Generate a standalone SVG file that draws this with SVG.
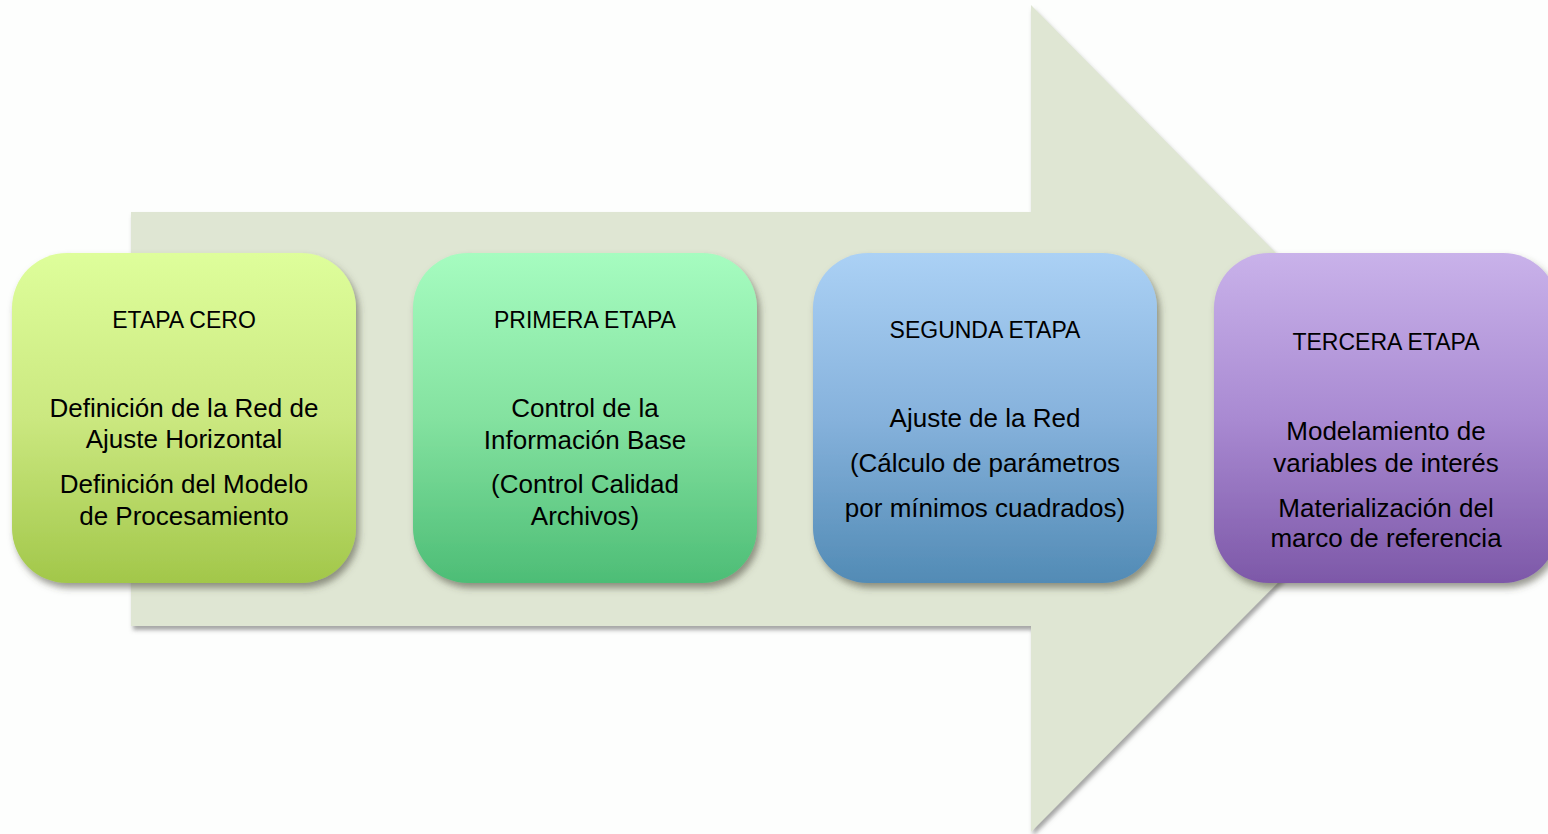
<svg xmlns="http://www.w3.org/2000/svg" width="1548" height="834" viewBox="0 0 1548 834">
<defs>
<filter id="arrowShadow" x="-5%" y="-5%" width="112%" height="112%">
<feDropShadow dx="2" dy="4" stdDeviation="2" flood-color="#6a6a6a" flood-opacity="0.6"/>
</filter>
<filter id="boxShadow" x="-10%" y="-10%" width="125%" height="125%">
<feDropShadow dx="3" dy="5" stdDeviation="3.5" flood-color="#4a4a3a" flood-opacity="0.55"/>
</filter>
<linearGradient id="g1" x1="0" y1="0" x2="0" y2="1">
<stop offset="0" stop-color="#defe9b"/>
<stop offset="0.5" stop-color="#cbe880"/>
<stop offset="1" stop-color="#a2c74a"/>
</linearGradient>
<linearGradient id="g2" x1="0" y1="0" x2="0" y2="1">
<stop offset="0" stop-color="#a6fcc0"/>
<stop offset="0.5" stop-color="#84e2a0"/>
<stop offset="1" stop-color="#4dbd76"/>
</linearGradient>
<linearGradient id="g3" x1="0" y1="0" x2="0" y2="1">
<stop offset="0" stop-color="#abd1f5"/>
<stop offset="0.5" stop-color="#86b2dc"/>
<stop offset="1" stop-color="#528bb5"/>
</linearGradient>
<linearGradient id="g4" x1="0" y1="0" x2="0" y2="1">
<stop offset="0" stop-color="#c9b2ea"/>
<stop offset="0.5" stop-color="#a98ad2"/>
<stop offset="1" stop-color="#7d58a8"/>
</linearGradient>
</defs>
<style>
.t { font-family: "Liberation Sans", Arial, sans-serif; fill: #000; text-anchor: middle; }
.h { font-size: 23px; }
.b { font-size: 26px; }
.box { filter: url(#boxShadow); }
</style>
<rect x="0" y="0" width="1548" height="834" fill="#fdfefd"/>
<g id="arrow">
<path d="M131 212 H1031 V5 L1440 419 L1031 832 V626 H131 Z" fill="#dfe6d3" filter="url(#arrowShadow)"/>
</g>
<g id="connectors"></g>
<g id="etapa-cero">
<rect class="box" x="12" y="253" width="344" height="330" rx="55" ry="55" fill="url(#g1)"/>
<text class="t h" x="184" y="328">ETAPA CERO</text>
<text class="t b" x="184" y="417">Definición de la Red de</text>
<text class="t b" x="184" y="448">Ajuste Horizontal</text>
<text class="t b" x="184" y="493">Definición del Modelo</text>
<text class="t b" x="184" y="525">de Procesamiento</text>
</g>
<g id="primera-etapa">
<rect class="box" x="413" y="253" width="344" height="330" rx="55" ry="55" fill="url(#g2)"/>
<text class="t h" x="585" y="328">PRIMERA ETAPA</text>
<text class="t b" x="585" y="417">Control de la</text>
<text class="t b" x="585" y="449">Información Base</text>
<text class="t b" x="585" y="493">(Control Calidad</text>
<text class="t b" x="585" y="525">Archivos)</text>
</g>
<g id="segunda-etapa">
<rect class="box" x="813" y="253" width="344" height="330" rx="55" ry="55" fill="url(#g3)"/>
<text class="t h" x="985" y="338">SEGUNDA ETAPA</text>
<text class="t b" x="985" y="427">Ajuste de la Red</text>
<text class="t b" x="985" y="472">(Cálculo de parámetros</text>
<text class="t b" x="985" y="517">por mínimos cuadrados)</text>
</g>
<g id="tercera-etapa">
<rect class="box" x="1214" y="253" width="344" height="330" rx="55" ry="55" fill="url(#g4)"/>
<text class="t h" x="1386" y="350">TERCERA ETAPA</text>
<text class="t b" x="1386" y="440">Modelamiento de</text>
<text class="t b" x="1386" y="472">variables de interés</text>
<text class="t b" x="1386" y="517">Materialización del</text>
<text class="t b" x="1386" y="547">marco de referencia</text>
</g>
</svg>
